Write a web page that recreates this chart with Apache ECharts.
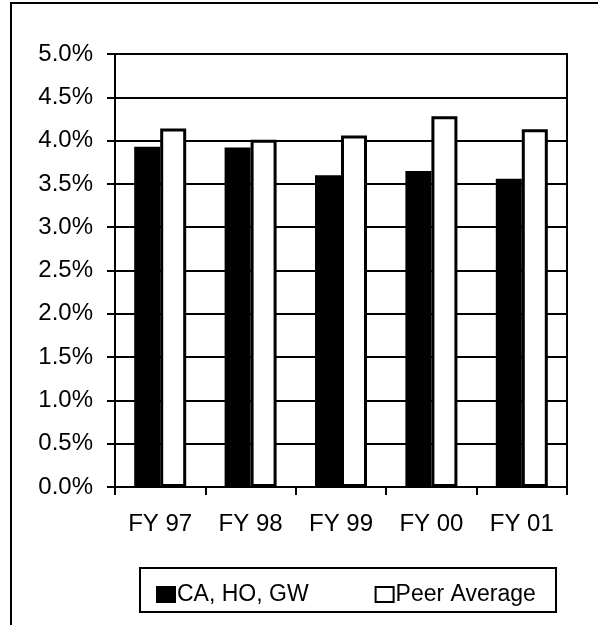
<!DOCTYPE html>
<html>
<head>
<meta charset="utf-8">
<script src="https://cdn.jsdelivr.net/npm/echarts@6/dist/echarts.min.js"></script>
<style>
  html, body { margin: 0; padding: 0; background: #fff; }
  #chart { width: 598px; height: 625px; }
</style>
</head>
<body>
<div id="chart"></div>
<script>
// Fiscal years shown on the category axis
const years = ['FY 97', 'FY 98', 'FY 99', 'FY 00', 'FY 01'];
// Rates in percent
const caHoGw = [3.93, 3.92, 3.60, 3.65, 3.56];
const peerAverage = [4.14, 4.01, 4.06, 4.28, 4.13];
const seriesNames = ['CA, HO, GW', 'Peer Average'];

const FONT = '"Liberation Sans", Arial, sans-serif';
const chart = echarts.init(document.getElementById('chart'), null, { renderer: 'canvas' });

chart.setOption({
  backgroundColor: '#fff',
  animation: false,
  textStyle: { fontFamily: FONT, color: '#000' },
  graphic: [
    // outer frame (top and left edges)
    { type: 'rect', shape: { x: 11, y: 3, width: 700, height: 700 },
      style: { fill: 'none', stroke: '#000', lineWidth: 2 }, z: 10 },
    // legend box
    { type: 'rect', shape: { x: 140, y: 568, width: 416, height: 44 },
      style: { fill: 'none', stroke: '#000', lineWidth: 2 }, z: 10 }
  ],
  grid: {
    left: 115, right: 31, top: 54, bottom: 138,
    show: true, borderColor: '#000', borderWidth: 2, backgroundColor: 'transparent'
  },
  legend: {
    data: seriesNames,
    left: 151, top: 578,
    itemWidth: 18, itemHeight: 15, itemGap: 66,
    icon: 'rect',
    textStyle: { fontFamily: FONT, fontSize: 23, color: '#000', padding: [0, 0, 0, -3] }
  },
  xAxis: {
    type: 'category',
    data: years,
    axisLine: { lineStyle: { color: '#000', width: 2 } },
    axisTick: { show: true, length: 8, lineStyle: { color: '#000', width: 2 } },
    axisLabel: { fontFamily: FONT, fontSize: 24, color: '#000', margin: 25 }
  },
  yAxis: {
    type: 'value',
    min: 0, max: 5, interval: 0.5,
    axisLine: { show: true, lineStyle: { color: '#000', width: 2 } },
    axisTick: { show: true, length: 8, lineStyle: { color: '#000', width: 2 } },
    splitLine: { lineStyle: { color: '#000', width: 2 } },
    axisLabel: {
      fontFamily: FONT, fontSize: 24, color: '#000', margin: 22,
      formatter: v => v.toFixed(1) + '%'
    }
  },
  series: [
    {
      name: seriesNames[0], type: 'bar', data: caHoGw,
      barWidth: 26, barGap: '0%',
      itemStyle: { color: '#000', borderColor: '#000', borderWidth: 2 }
    },
    {
      name: seriesNames[1], type: 'bar', data: peerAverage,
      barWidth: 26, barGap: '0%',
      itemStyle: { color: '#fff', borderColor: '#000', borderWidth: 3 }
    }
  ]
});
</script>
</body>
</html>
